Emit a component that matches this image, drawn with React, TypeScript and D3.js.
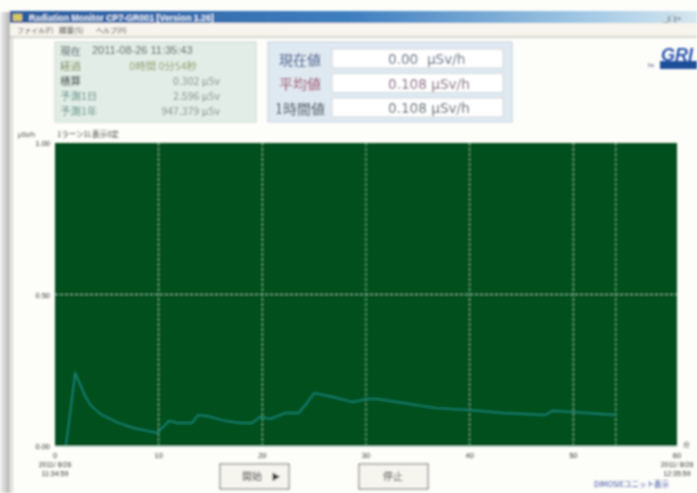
import React from "react";
import * as d3 from "d3";

const minutes = [1.05, 1.95, 2.4, 2.9, 3.4, 4.4, 6.0, 7.5, 9.85, 11.0, 11.8, 13.2, 13.8, 14.65, 16.4, 17.85, 19.0, 19.8, 20.75, 22.2, 23.5, 24.3, 25.0, 26.8, 28.7, 30.1, 31.1, 33.6, 36.8, 40.0, 43.2, 47.25, 48.0, 49.9, 54.1];
const doseRate = [0, 0.24, 0.205, 0.165, 0.136, 0.105, 0.078, 0.06, 0.043, 0.083, 0.076, 0.076, 0.102, 0.099, 0.083, 0.076, 0.076, 0.096, 0.089, 0.109, 0.109, 0.142, 0.175, 0.162, 0.145, 0.155, 0.155, 0.142, 0.125, 0.119, 0.109, 0.102, 0.116, 0.112, 0.102];
const xTicks = [0, 10, 20, 30, 40, 50, 60];
const yTicks = [0, 0.5, 1];
const yTickLabels = ["0.00", "0.50", "1.00"];
const infoLabels = ["現在", "経過", "積算", "予測1日", "予測1年"];
const infoValues = ["", "0時間 0分54秒", "0.302 μSv", "2.596 μSv", "947.379 μSv"];
const infoColors = ["#46565a", "#7d8a50", "#3c4444", "#5c9088", "#5c9088"];
const readLabels = ["現在値", "平均値", "1時間値"];
const readValues = ["0.00  μSv/h", "0.108 μSv/h", "0.108 μSv/h"];
const readLabelColors = ["#2a4a86", "#a03060", "#2c3a48"];
const readValueColors = ["#4a5a74", "#7a5a74", "#4c5660"];

const x = d3.scaleLinear().domain([0, 60]).range([55, 677]);
const y = d3.scaleLinear().domain([0, 1]).range([446, 143]);
const line = d3.line<number>().x((_, i) => x(minutes[i])).y((d) => y(d));
const cjk = "'Noto Sans CJK JP', sans-serif";
const latin = "'Liberation Sans', sans-serif";
const gridStroke = "#78bc94";

export default function App() {
  return (
    <svg width={697} height={493} style={{ position: "absolute", left: 0, top: 0, background: "#fdfdfa" }} fontFamily={cjk}>
      <defs>
        <linearGradient id="tb" x1="0" x2="1">
          <stop offset="0" stopColor="#2a5a9c" />
          <stop offset="0.5" stopColor="#3f7fc0" />
          <stop offset="0.85" stopColor="#a5cbe6" />
          <stop offset="1" stopColor="#d6e6ef" />
        </linearGradient>
        <linearGradient id="sh" x1="0" x2="1">
          <stop offset="0" stopColor="#f0f0f0" />
          <stop offset="1" stopColor="#b4b4b4" />
        </linearGradient>
        <filter id="b" x="-5%" y="-5%" width="110%" height="110%">
          <feGaussianBlur stdDeviation="0.8" />
        </filter>
      </defs>
      <g filter="url(#b)">
        <rect x={0} y={12} width={10} height={481} fill="url(#sh)" />
        <rect x={10} y={11} width={687} height={12} fill="url(#tb)" />
        <rect x={13} y={14} width={9} height={7} fill="#d8c860" />
        <text x={29} y={20.5} fontSize={8.8} fontWeight={700} fill="#eef2fa" fontFamily={latin}>Radiation Monitor CP7-GR001   [Version 1.26]</text>
        <text x={663} y={21} fontSize={8} fill="#555" fontFamily={latin}>_|□|×</text>
        <rect x={10} y={23} width={687} height={13} fill="#f6f4ec" />
        <text x={17} y={33} fontSize={7} fill="#444">ファイル(F)</text>
        <text x={59} y={33} fontSize={7.5} fill="#444">線量(S)</text>
        <text x={96} y={33} fontSize={7} fill="#444">ヘルプ(H)</text>
        <line x1={10} x2={697} y1={37} y2={37} stroke="#a8a8a0" />
        <line x1={12} x2={12} y1={37} y2={493} stroke="#b8b8b8" />

        <rect x={55} y={42} width={201} height={80} fill="#e2ede7" stroke="#ccd8d2" />
        {infoLabels.map((t, i) => (
          <text key={t} x={60} y={55 + i * 15} fontSize={10.5} fill={infoColors[i]}>{t}</text>
        ))}
        <text x={92} y={54} fontSize={11} fill="#46565a" fontFamily={latin}>2011-08-26  11:35:43</text>
        {infoValues.map((t, i) => (
          <text key={i} x={i === 1 ? 197 : 220} y={55 + i * 15} fontSize={10.5} textAnchor="end" fill={i === 1 ? "#8f9a60" : "#7c8a88"}>{t}</text>
        ))}

        <rect x={268} y={42} width={244} height={80} fill="#dfe9f1" stroke="#c6d2da" />
        {readValues.map((t, i) => (
          <g key={i}>
            <rect x={332} y={49 + i * 24.5} width={171} height={19} fill="#fff" stroke="#cfd6da" />
            <text x={300} y={64.5 + i * 24.5} fontSize={14} textAnchor="middle" fill={readLabelColors[i]}>{readLabels[i]}</text>
            <text x={388} y={64 + i * 24.5} fontSize={13.6} fill={readValueColors[i]} xmlSpace="preserve" fontFamily="'DejaVu Sans', sans-serif">{t}</text>
          </g>
        ))}

        <text x={661} y={61} fontSize={18} fontWeight={700} fontStyle="italic" fill="#2a55b0" fontFamily={latin}>GRI</text>
        <rect x={660} y={61} width={37} height={8} fill="#1f4f98" />
        <text x={648} y={67} fontSize={6} fill="#4a5a80" fontFamily={latin}>fw</text>

        <text x={18} y={137} fontSize={6.5} fill="#444" fontFamily={latin}>μSv/h</text>
        <text x={57} y={137} fontSize={7.6} fill="#444">1ラーン1L表示0定</text>

        <rect x={x(0)} y={y(1)} width={x(60) - x(0)} height={y(0) - y(1)} fill="#02501f" />
        <line x1={x(0)} x2={x(60)} y1={y(0) + 0.5} y2={y(0) + 0.5} stroke="#bfe8d4" />

        {xTicks.slice(1, -1).map((t) => (
          <line key={t} x1={x(t)} x2={x(t)} y1={y(1)} y2={y(0)} stroke={gridStroke} strokeWidth={0.9} strokeDasharray="3 2" />
        ))}
        <line x1={x(minutes[minutes.length - 1])} x2={x(minutes[minutes.length - 1])} y1={y(1)} y2={y(0)} stroke={gridStroke} strokeWidth={0.9} strokeDasharray="3 2" />
        <line x1={x(0)} x2={x(60)} y1={y(0.5)} y2={y(0.5)} stroke={gridStroke} strokeWidth={0.9} strokeDasharray="3 2" />
        <path d={line(doseRate) ?? ""} fill="none" stroke="#1b8674" strokeWidth={1.5} />

        {yTicks.map((t, i) => (
          <text key={t} x={50} y={y(t) + 3} fontSize={7.5} textAnchor="end" fill="#333" fontFamily={latin}>{yTickLabels[i]}</text>
        ))}
        {xTicks.map((t) => (
          <text key={t} x={x(t)} y={458} fontSize={7.5} textAnchor="middle" fill="#333" fontFamily={latin}>{t}</text>
        ))}
        <text x={683} y={447} fontSize={7} fill="#444" fontFamily={latin}>分</text>
        <text x={55} y={467} fontSize={7} textAnchor="middle" fill="#333" fontFamily={latin}>2011/ 8/26</text>
        <text x={55} y={476} fontSize={7} textAnchor="middle" fill="#333" fontFamily={latin}>11:34:59</text>
        <text x={677} y={467} fontSize={7} textAnchor="middle" fill="#333" fontFamily={latin}>2011/ 8/26</text>
        <text x={677} y={476} fontSize={7} textAnchor="middle" fill="#333" fontFamily={latin}>12:35:59</text>
        <text x={594} y={487} fontSize={7.5} fill="#3a4aa0">DIMOSIEユニット表示</text>

        <rect x={220} y={464} width={69} height={25} fill="#f6f5ee" stroke="#666" />
        <text x={252} y={480} fontSize={10} textAnchor="middle" fill="#444">開始</text>
        <text x={276} y={480} fontSize={9} textAnchor="middle" fill="#333">▶</text>
        <rect x={359} y={464} width={69} height={25} fill="#f6f5ee" stroke="#666" />
        <text x={393} y={480} fontSize={10} textAnchor="middle" fill="#444">停止</text>
      </g>
    </svg>
  );
}
